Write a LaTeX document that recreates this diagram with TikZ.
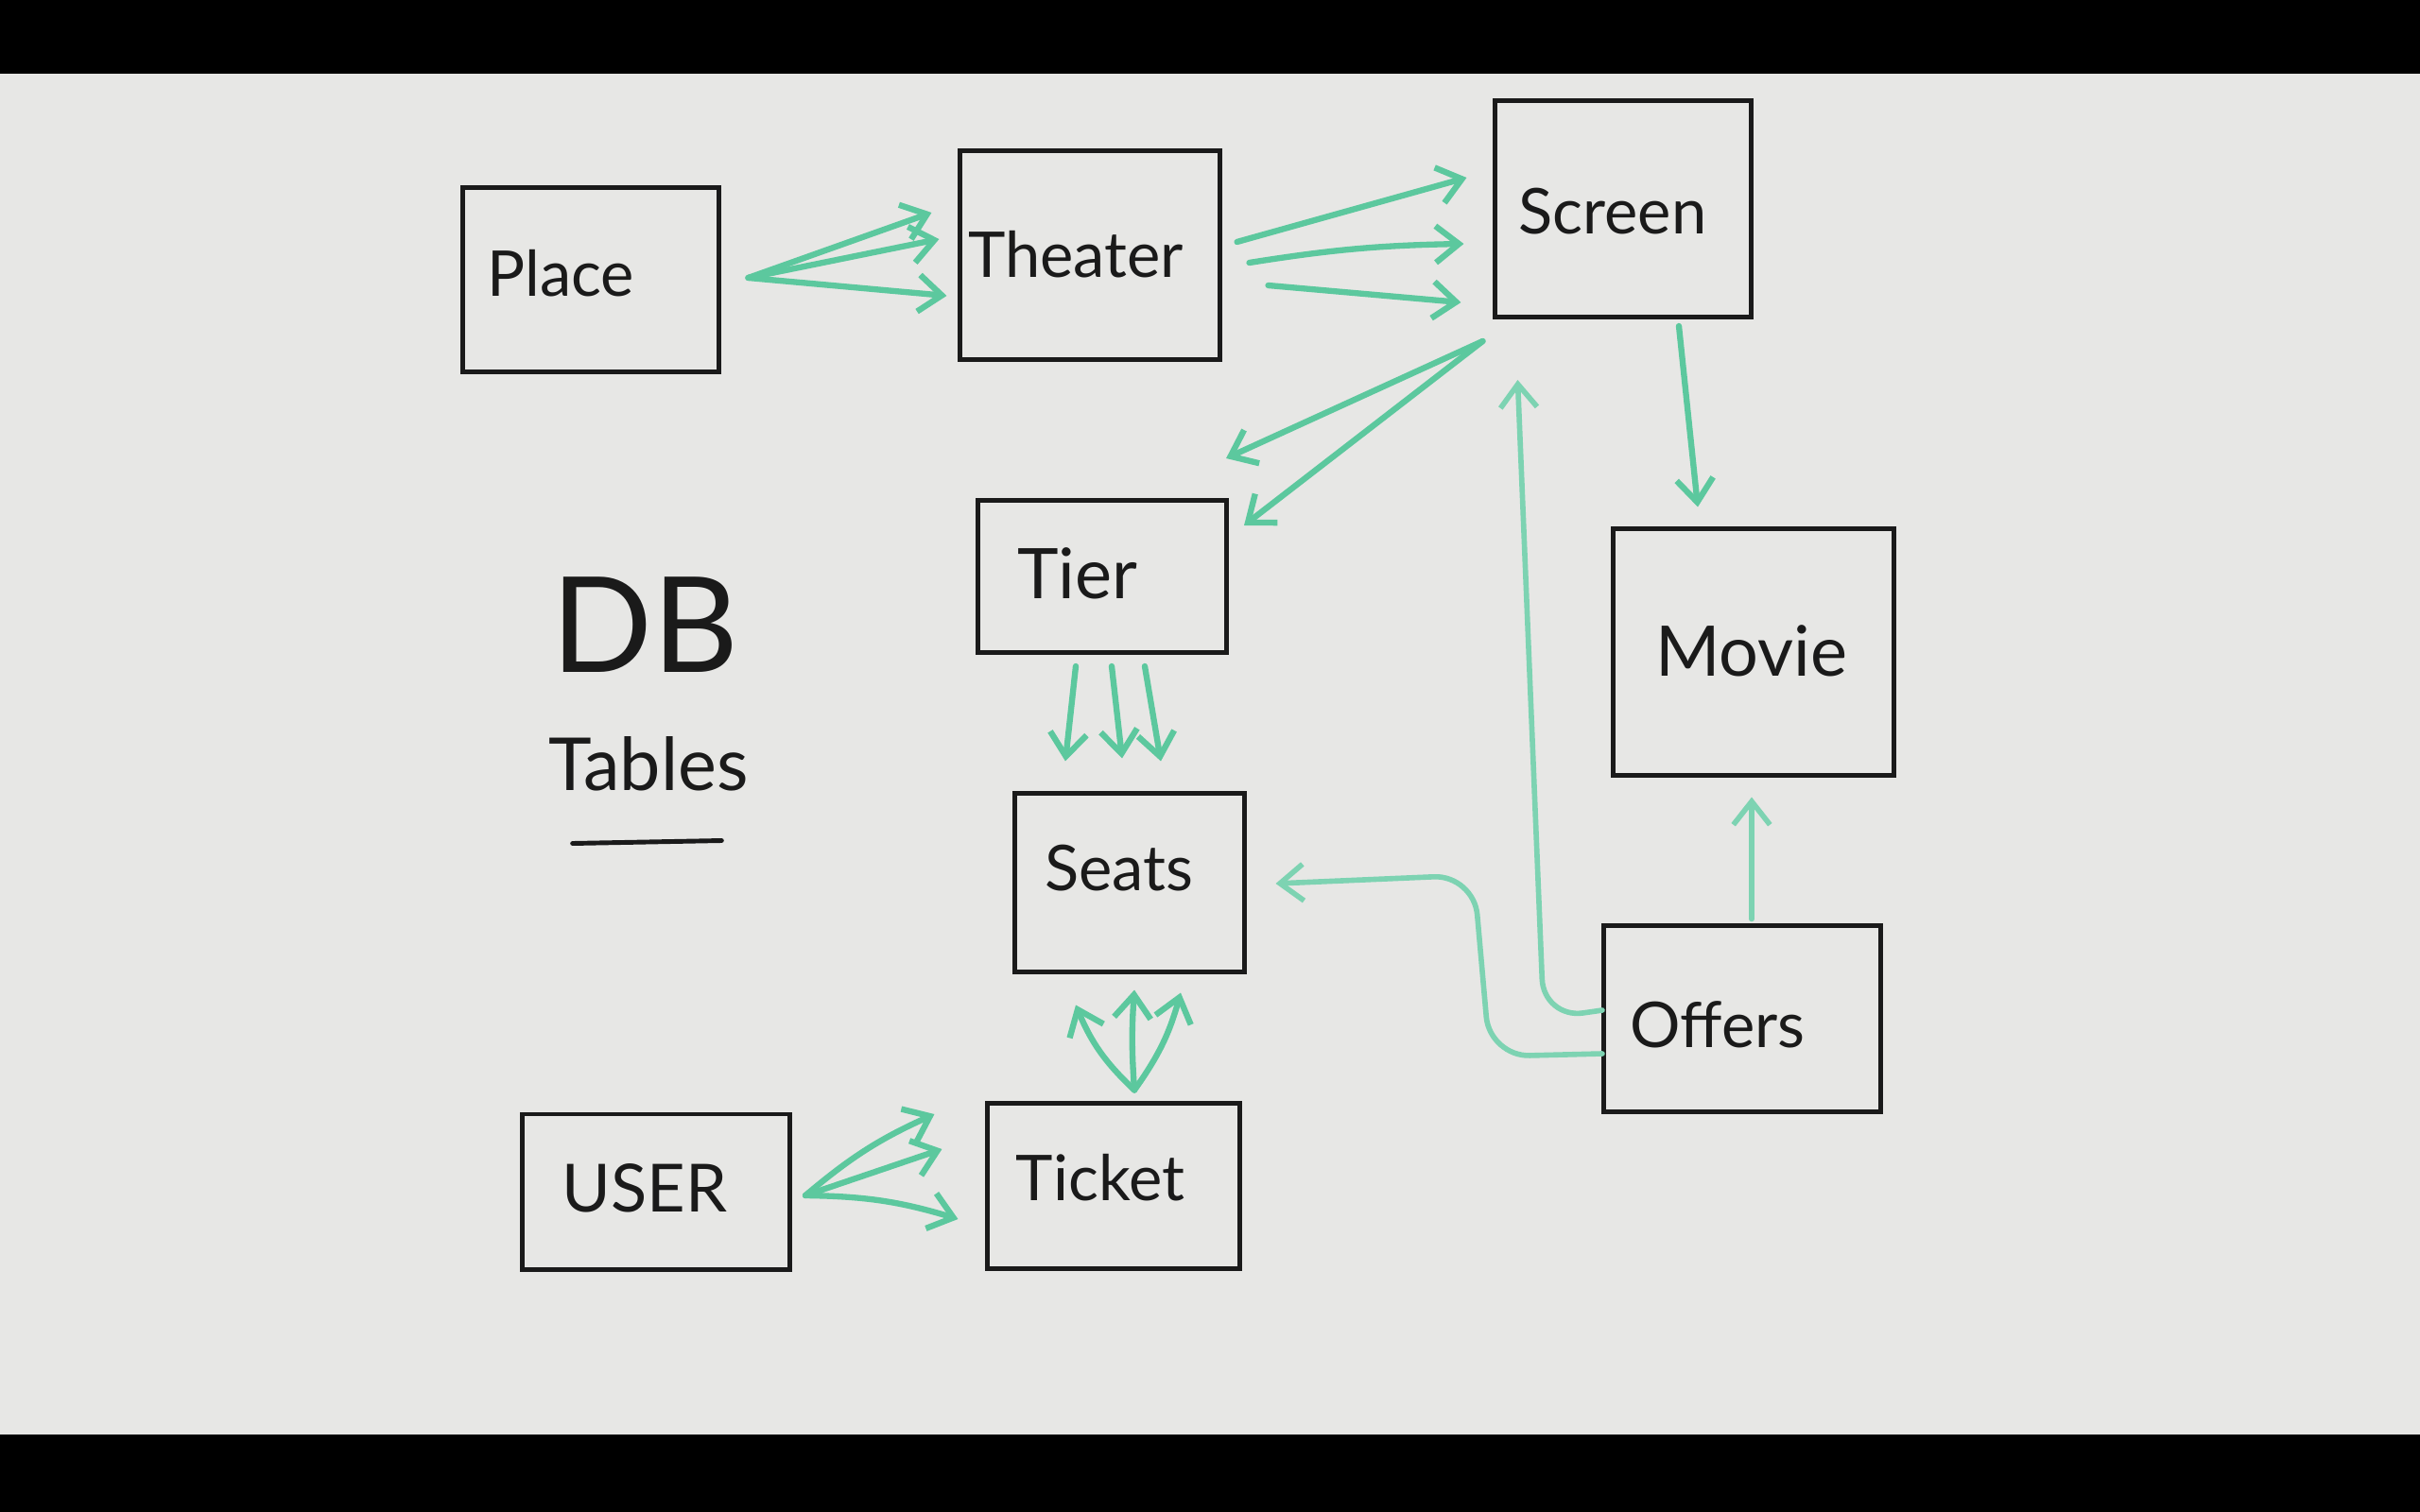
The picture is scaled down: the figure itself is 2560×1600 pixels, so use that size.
\documentclass[tikz,border=0pt]{standalone}
\usepackage{fontspec}
\setmainfont{Lato}
\usetikzlibrary{arrows.meta,calc}
\definecolor{board}{HTML}{E7E7E5}
\definecolor{mgreen}{HTML}{5CC89E}
\definecolor{lgreen}{HTML}{7DD3B2}
\definecolor{ink}{HTML}{1A1A1A}
\begin{document}
\begin{tikzpicture}[x=0.01cm,y=-0.01cm,
  tbl/.style={draw=ink,line width=1.4pt,inner sep=0pt,rectangle},
  lbl/.style={font=\fontsize{19}{22}\selectfont,text=ink,inner sep=0pt},
  arr/.style={mgreen,line width=1.8pt,line cap=round,-{Straight Barb[length=7pt,width=11pt,line width=1.8pt]}},
  larr/.style={lgreen,line width=1.6pt,line cap=round,rounded corners=12pt,-{Straight Barb[length=7pt,width=11pt,line width=1.6pt]}}]
\useasboundingbox (0,0) rectangle (2560,1600);
\fill[black] (0,0) rectangle (2560,1600);
\fill[board] (0,78) rectangle (2560,1518);

% tables
\node[tbl,minimum width=2.70cm,minimum height=1.94cm] (place)   at (625,296)  {};
\node[tbl,minimum width=2.74cm,minimum height=2.20cm] (theater) at (1153,270) {};
\node[tbl,minimum width=2.70cm,minimum height=2.29cm] (screen)  at (1717,221) {};
\node[tbl,minimum width=2.63cm,minimum height=1.61cm] (tier)    at (1166,610) {};
\node[tbl,minimum width=2.96cm,minimum height=2.60cm] (movie)   at (1855,690) {};
\node[tbl,minimum width=2.42cm,minimum height=1.88cm] (seats)   at (1195,934) {};
\node[tbl,minimum width=2.93cm,minimum height=1.96cm] (offers)  at (1843,1078) {};
\node[tbl,minimum width=2.83cm,minimum height=1.64cm] (user)    at (694,1261) {};
\node[tbl,minimum width=2.66cm,minimum height=1.74cm] (ticket)  at (1178,1255) {};

% labels
\node[lbl] (placeT)   at (593,289)  {Place};
\node[lbl] (theaterT) at (1138,269) {Theater};
\node[lbl] (screenT)  at (1706,224) {Screen};
\node[lbl,font=\fontsize{21}{24}\selectfont] (tierT) at (1140,607) {Tier};
\node[lbl,font=\fontsize{21}{24}\selectfont] (movieT) at (1853,689) {Movie};
\node[lbl] (seatsT)   at (1184,919) {Seats};
\node[lbl] (offersT)  at (1817,1084) {Offers};
\node[lbl,font=\fontsize{20}{23}\selectfont] (userT) at (682,1257) {USER};
\node[lbl] (ticketT)  at (1164,1246) {Ticket};

\node[lbl,font=\fontsize{40}{44}\selectfont] (db) at (682,661) {DB};
\node[lbl,font=\fontsize{22}{26}\selectfont] (tables) at (686,808) {Tables};
\draw[ink,line width=1.4pt,line cap=round] ($(tables.south west)+(26,55)$) coordinate (ulA) -- ($(tables.south east)+(-29,52)$) coordinate (ulB);

% Place -> Theater
\draw[arr] ($(place.east)+(29,-2)$) -- ($(theater.west)+(-28,-45)$);
\draw[arr] ($(place.east)+(29,-2)$) -- ($(theater.west)+(-20,-17)$);
\draw[arr] ($(place.east)+(29,-2)$) -- ($(theater.west)+(-12,43)$);

% Theater -> Screen
\draw[arr] ($(theater.east)+(16,-14)$) -- ($(screen.west)+(-28,-33)$);
\draw[arr] ($(theater.east)+(29,8)$) to[bend left=4] ($(screen.west)+(-31,37)$);
\draw[arr] ($(theater.east)+(49,32)$) -- ($(screen.west)+(-34,99)$);

% Screen -> Tier
\draw[arr] ($(screen.south west)+(-11,23)$) -- ($(tier.north east)+(-3,-42)$);
\draw[arr] ($(screen.south west)+(-11,23)$) -- ($(tier.north east)+(16,29)$);

% Screen -> Movie
\draw[arr] ($(screen.south)+(59,7)$) -- ($(movie.north)+(-59,-21)$);

% Tier -> Seats
\draw[arr] ($(tier.south)+(-28,12)$) -- ($(seats.north)+(-68,-32)$);
\draw[arr] ($(tier.south)+(10,12)$) -- ($(seats.north)+(-8,-35)$);
\draw[arr] ($(tier.south)+(45,12)$) -- ($(seats.north)+(33,-32)$);

% Ticket -> Seats
\draw[arr] ($(ticket.north)+(22,-12)$) to[bend left=12] ($(seats.south)+(-57,33)$);
\draw[arr] ($(ticket.north)+(22,-12)$) to[bend left=4] ($(seats.south)+(5,17)$);
\draw[arr] ($(ticket.north)+(22,-12)$) to[bend right=10] ($(seats.south)+(54,20)$);

% USER -> Ticket
\draw[arr] ($(user.east)+(14,4)$) to[bend left=8] ($(ticket.west)+(-54,-76)$);
\draw[arr] ($(user.east)+(14,4)$) -- ($(ticket.west)+(-46,-39)$);
\draw[arr] ($(user.east)+(14,4)$) to[bend left=8] ($(ticket.west)+(-29,35)$);

% Offers -> Screen, Seats, Movie
\draw[larr] ($(offers.west)+(1,-9)$) -- (1633,1078) -- ($(screen.south west)+(26,64)$);
\draw[larr] ($(offers.west)+(1,37)$) -- (1576,1118) -- (1559,926) -- ($(seats.east)+(31,1)$);
\draw[larr] ($(offers.north)+(10,-5)$) -- ($(movie.south)+(-2,21)$);
\end{tikzpicture}
\end{document}
